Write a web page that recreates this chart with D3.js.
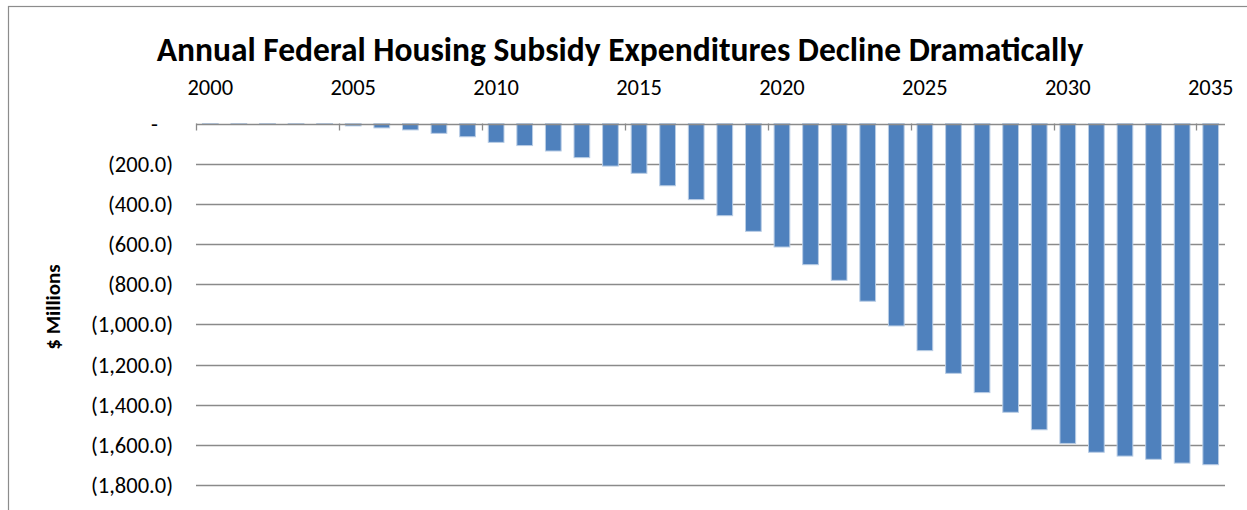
<!DOCTYPE html>
<html>
<head>
<meta charset="utf-8">
<script src="https://cdn.jsdelivr.net/npm/d3@7"></script>
<style>
  html, body { margin: 0; padding: 0; background: #fff; }
  svg { display: block; font-family: Carlito, Calibri, Lato, "Open Sans", sans-serif; }
</style>
</head>
<body>
<svg id="chart" width="1247" height="510"></svg>
<script>
// ---- data ----
const title = "Annual Federal Housing Subsidy Expenditures Decline Dramatically";
const yAxisTitle = "$ Millions";
const years = d3.range(2000, 2036);
const values = [
  -2, -2, -2, -2, -2,
  -12, -22, -32, -49, -66,
  -94, -110, -137, -170, -212,
  -248, -310, -379, -459, -537,
  -615, -703, -781, -885, -1008,
  -1131, -1244, -1340, -1438, -1525,
  -1593, -1637, -1656, -1672, -1691,
  -1699
];
const yTicks = [0, -200, -400, -600, -800, -1000, -1200, -1400, -1600, -1800];
const xLabelYears = [2000, 2005, 2010, 2015, 2020, 2025, 2030, 2035];

// ---- layout ----
const svg = d3.select("#chart");
const W = 1247, H = 510;
const plot = { left: 196, right: 1225, top: 123.5, bottom: 485 };

// outer chart-area border
svg.append("rect")
  .attr("x", 8.5).attr("y", 6.5)
  .attr("width", W + 20).attr("height", H + 20)
  .attr("fill", "#fff").attr("stroke", "#8c8c8c").attr("stroke-width", 1.2);

const x = d3.scaleBand().domain(years).range([plot.left, plot.right]).paddingInner(0.45).paddingOuter(0.225);
const y = d3.scaleLinear().domain([0, -1800]).range([plot.top, plot.bottom]);

// gridlines
const fmt = d3.format(",.1f");
svg.append("g").selectAll("line").data(yTicks.filter(d => d !== 0)).join("line")
  .attr("x1", plot.left).attr("x2", plot.right)
  .attr("y1", d => Math.round(y(d)) + 0.5).attr("y2", d => Math.round(y(d)) + 0.5)
  .attr("stroke", "#8a8a8a").attr("stroke-width", 1.3);

// y tick labels
svg.append("g").selectAll("text").data(yTicks).join("text")
  .attr("x", d => d === 0 ? 158 : 173)
  .attr("y", d => y(d) + 8)
  .attr("text-anchor", "end")
  .attr("font-size", 22.5)
  .attr("fill", "#000")
  .text(d => d === 0 ? "-" : "(" + fmt(-d) + ")");

// bars
svg.append("g").selectAll("rect").data(years).join("rect")
  .attr("x", d => x(d))
  .attr("width", x.bandwidth())
  .attr("y", y(0))
  .attr("height", (d, i) => y(values[i]) - y(0))
  .attr("fill", "#4f81bd")
  .attr("stroke", "#b9cde5").attr("stroke-width", 1);

// zero axis line + ticks
svg.append("line")
  .attr("x1", plot.left).attr("x2", plot.right)
  .attr("y1", Math.round(y(0)) + 0.5).attr("y2", Math.round(y(0)) + 0.5)
  .attr("stroke", "#8a8a8a").attr("stroke-width", 1.3);
const step = x.step();
svg.append("g").selectAll("line").data(xLabelYears).join("line")
  .attr("x1", d => Math.round(x(d) - (step - x.bandwidth()) / 2) + 0.5)
  .attr("x2", d => Math.round(x(d) - (step - x.bandwidth()) / 2) + 0.5)
  .attr("y1", y(0)).attr("y2", y(0) + 7)
  .attr("stroke", "#8a8a8a").attr("stroke-width", 1.3);

// x labels (top)
svg.append("g").selectAll("text").data(xLabelYears).join("text")
  .attr("x", d => x(d) + x.bandwidth() / 2)
  .attr("y", 95)
  .attr("text-anchor", "middle")
  .attr("font-size", 22.5)
  .attr("fill", "#000")
  .text(d => d);

// title
svg.append("text")
  .attr("x", 620).attr("y", 61)
  .attr("text-anchor", "middle")
  .attr("font-size", 33.5)
  .attr("font-weight", "bold")
  .attr("fill", "#000")
  .text(title);

// y axis title
svg.append("text")
  .attr("transform", "translate(60,307) rotate(-90)")
  .attr("text-anchor", "middle")
  .attr("font-size", 21)
  .attr("font-weight", "bold")
  .attr("fill", "#000")
  .text(yAxisTitle);
</script>
</body>
</html>
